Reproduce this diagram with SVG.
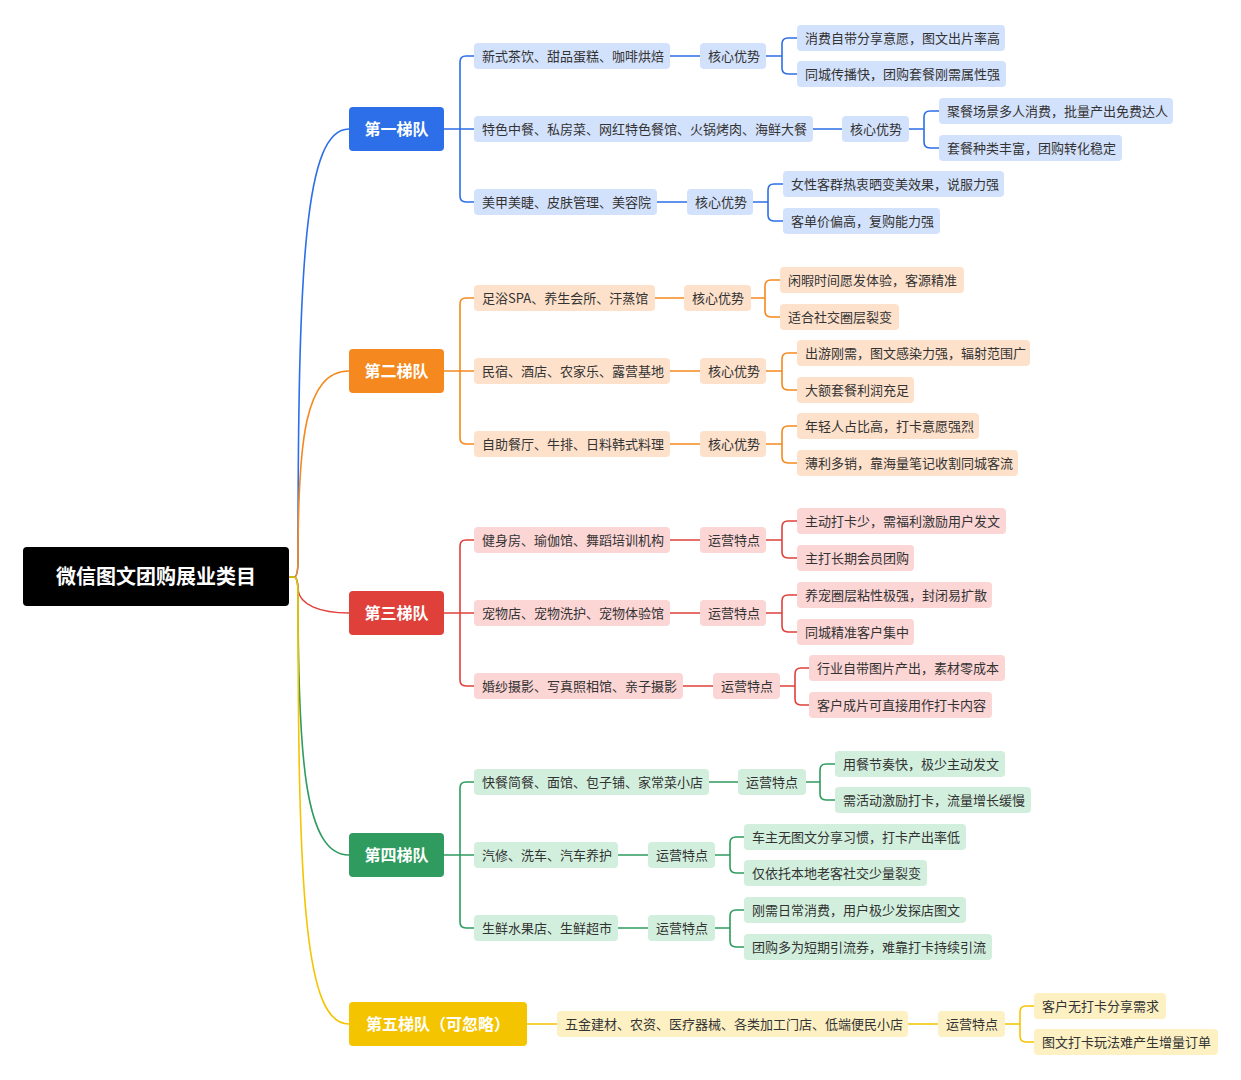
<svg xmlns="http://www.w3.org/2000/svg" width="1241" height="1080" viewBox="0 0 1241 1080">
<style>
text{font-family:"Noto Sans CJK SC","Noto Sans",sans-serif;font-size:13px;fill:#333}
.t{font-size:16px;font-weight:bold;fill:#fff;text-anchor:middle}
.r{font-size:20px;font-weight:bold;fill:#fff;text-anchor:middle}
.c path{fill:none;stroke-width:1.6}
.b rect{fill:#d3e2fc}.o rect{fill:#fde1cb}.d rect{fill:#fcd5d5}.g rect{fill:#d2efdd}.y rect{fill:#fdf1c3}
</style>
<rect width="1241" height="1080" fill="#fff"/>
<g id="connectors" class="c">
<path stroke="#2c6fe8" d="M289,577 H294 Q298,577 298,560 C298,260 305,129 349,129"/>
<path stroke="#f5891f" d="M289,577 H294 Q298,577 298,560 C298,440 305,371 349,371"/>
<path stroke="#e0403a" d="M289,577 H294 Q298,577 298,590 C300,605 320,613 349,613"/>
<path stroke="#2f9b5e" d="M289,577 H294 Q298,577 298,594 C298,760 305,855 349,855"/>
<path stroke="#f5c400" d="M289,577 H294 Q298,577 298,594 C298,900 305,1024 349,1024"/>
<g stroke="#2c6fe8">
<path d="M444,129 H474 M460,129 V62 Q460,56 466,56 H474 M460,129 V196 Q460,202 466,202 H474"/>
<path d="M670,56 H700 M766,56 H782 M782,56 V44 Q782,38 788,38 H797 M782,56 V68 Q782,74 788,74 H797"/>
<path d="M813,129 H842 M909,129 H924 M924,129 V117 Q924,111 930,111 H939 M924,129 V142 Q924,148 930,148 H939"/>
<path d="M657,202 H687 M753,202 H768 M768,202 V190 Q768,184 774,184 H783 M768,202 V215 Q768,221 774,221 H783"/>
</g>
<g stroke="#f5891f">
<path d="M444,371 H474 M460,371 V304 Q460,298 466,298 H474 M460,371 V438 Q460,444 466,444 H474"/>
<path d="M655,298 H684 M751,298 H765 M765,298 V286 Q765,280 771,280 H780 M765,298 V311 Q765,317 771,317 H780"/>
<path d="M670,371 H700 M766,371 H782 M782,371 V359 Q782,353 788,353 H797 M782,371 V384 Q782,390 788,390 H797"/>
<path d="M670,444 H700 M766,444 H782 M782,444 V432 Q782,426 788,426 H797 M782,444 V457 Q782,463 788,463 H797"/>
</g>
<g stroke="#e0403a">
<path d="M444,613 H474 M460,613 V546 Q460,540 466,540 H474 M460,613 V680 Q460,686 466,686 H474"/>
<path d="M670,540 H700 M766,540 H782 M782,540 V527 Q782,521 788,521 H797 M782,540 V552 Q782,558 788,558 H797"/>
<path d="M670,613 H700 M766,613 H782 M782,613 V601 Q782,595 788,595 H797 M782,613 V626 Q782,632 788,632 H797"/>
<path d="M683,686 H713 M780,686 H795 M795,686 V674 Q795,668 801,668 H809 M795,686 V699 Q795,705 801,705 H809"/>
</g>
<g stroke="#2f9b5e">
<path d="M444,855 H474 M460,855 V788 Q460,782 466,782 H474 M460,855 V922 Q460,928 466,928 H474"/>
<path d="M709,782 H738 M806,782 H820 M820,782 V770 Q820,764 826,764 H835 M820,782 V794 Q820,800 826,800 H835"/>
<path d="M618,855 H648 M715,855 H730 M730,855 V843 Q730,837 736,837 H744 M730,855 V867 Q730,873 736,873 H744"/>
<path d="M618,928 H648 M715,928 H730 M730,928 V916 Q730,910 736,910 H744 M730,928 V941 Q730,947 736,947 H744"/>
</g>
<g stroke="#f5c400">
<path d="M527,1024 H557 M908,1024 H938 M1005,1024 H1020 M1020,1024 V1012 Q1020,1006 1026,1006 H1034 M1020,1024 V1036 Q1020,1042 1026,1042 H1034"/>
</g>
</g>
<g id="root"><rect x="23" y="547" width="266" height="59" rx="4" fill="#000"/><text class="r" x="156" y="584">微信图文团购展业类目</text></g>
<g id="tier1"><rect x="349" y="107" width="95" height="44" rx="4" fill="#2c6fe8"/><text class="t" x="396.5" y="135">第一梯队</text></g>
<g id="tier2"><rect x="349" y="349" width="95" height="44" rx="4" fill="#f5891f"/><text class="t" x="396.5" y="377">第二梯队</text></g>
<g id="tier3"><rect x="349" y="591" width="95" height="44" rx="4" fill="#e0403a"/><text class="t" x="396.5" y="619">第三梯队</text></g>
<g id="tier4"><rect x="349" y="833" width="95" height="44" rx="4" fill="#2f9b5e"/><text class="t" x="396.5" y="861">第四梯队</text></g>
<g id="tier5"><rect x="349" y="1002" width="178" height="44" rx="4" fill="#f5c400"/><text class="t" x="438" y="1030">第五梯队（可忽略）</text></g>

<g class="b">
<g id="b1"><rect x="474" y="43" width="196" height="26" rx="4"/><text x="482" y="61">新式茶饮、甜品蛋糕、咖啡烘焙</text></g>
<g id="b1k"><rect x="700" y="43" width="66" height="26" rx="4"/><text x="708" y="61">核心优势</text></g>
<g id="b1a"><rect x="797" y="25" width="208" height="26" rx="4"/><text x="805" y="43">消费自带分享意愿，图文出片率高</text></g>
<g id="b1b"><rect x="797" y="61" width="209" height="26" rx="4"/><text x="805" y="79">同城传播快，团购套餐刚需属性强</text></g>
<g id="b2"><rect x="474" y="116" width="339" height="26" rx="4"/><text x="482" y="134">特色中餐、私房菜、网红特色餐馆、火锅烤肉、海鲜大餐</text></g>
<g id="b2k"><rect x="842" y="116" width="67" height="26" rx="4"/><text x="850" y="134">核心优势</text></g>
<g id="b2a"><rect x="939" y="98" width="234" height="26" rx="4"/><text x="947" y="116">聚餐场景多人消费，批量产出免费达人</text></g>
<g id="b2b"><rect x="939" y="135" width="183" height="26" rx="4"/><text x="947" y="153">套餐种类丰富，团购转化稳定</text></g>
<g id="b3"><rect x="474" y="189" width="183" height="26" rx="4"/><text x="482" y="207">美甲美睫、皮肤管理、美容院</text></g>
<g id="b3k"><rect x="687" y="189" width="66" height="26" rx="4"/><text x="695" y="207">核心优势</text></g>
<g id="b3a"><rect x="783" y="171" width="221" height="26" rx="4"/><text x="791" y="189">女性客群热衷晒变美效果，说服力强</text></g>
<g id="b3b"><rect x="783" y="208" width="157" height="26" rx="4"/><text x="791" y="226">客单价偏高，复购能力强</text></g>
</g>

<g class="o">
<g id="o1"><rect x="474" y="285" width="181" height="26" rx="4"/><text x="482" y="303">足浴SPA、养生会所、汗蒸馆</text></g>
<g id="o1k"><rect x="684" y="285" width="67" height="26" rx="4"/><text x="692" y="303">核心优势</text></g>
<g id="o1a"><rect x="780" y="267" width="184" height="26" rx="4"/><text x="788" y="285">闲暇时间愿发体验，客源精准</text></g>
<g id="o1b"><rect x="780" y="304" width="119" height="26" rx="4"/><text x="788" y="322">适合社交圈层裂变</text></g>
<g id="o2"><rect x="474" y="358" width="196" height="26" rx="4"/><text x="482" y="376">民宿、酒店、农家乐、露营基地</text></g>
<g id="o2k"><rect x="700" y="358" width="66" height="26" rx="4"/><text x="708" y="376">核心优势</text></g>
<g id="o2a"><rect x="797" y="340" width="233" height="26" rx="4"/><text x="805" y="358">出游刚需，图文感染力强，辐射范围广</text></g>
<g id="o2b"><rect x="797" y="377" width="117" height="26" rx="4"/><text x="805" y="395">大额套餐利润充足</text></g>
<g id="o3"><rect x="474" y="431" width="196" height="26" rx="4"/><text x="482" y="449">自助餐厅、牛排、日料韩式料理</text></g>
<g id="o3k"><rect x="700" y="431" width="66" height="26" rx="4"/><text x="708" y="449">核心优势</text></g>
<g id="o3a"><rect x="797" y="413" width="182" height="26" rx="4"/><text x="805" y="431">年轻人占比高，打卡意愿强烈</text></g>
<g id="o3b"><rect x="797" y="450" width="221" height="26" rx="4"/><text x="805" y="468">薄利多销，靠海量笔记收割同城客流</text></g>
</g>

<g class="d">
<g id="d1"><rect x="474" y="527" width="196" height="26" rx="4"/><text x="482" y="545">健身房、瑜伽馆、舞蹈培训机构</text></g>
<g id="d1k"><rect x="700" y="527" width="66" height="26" rx="4"/><text x="708" y="545">运营特点</text></g>
<g id="d1a"><rect x="797" y="508" width="209" height="26" rx="4"/><text x="805" y="526">主动打卡少，需福利激励用户发文</text></g>
<g id="d1b"><rect x="797" y="545" width="117" height="26" rx="4"/><text x="805" y="563">主打长期会员团购</text></g>
<g id="d2"><rect x="474" y="600" width="196" height="26" rx="4"/><text x="482" y="618">宠物店、宠物洗护、宠物体验馆</text></g>
<g id="d2k"><rect x="700" y="600" width="66" height="26" rx="4"/><text x="708" y="618">运营特点</text></g>
<g id="d2a"><rect x="797" y="582" width="195" height="26" rx="4"/><text x="805" y="600">养宠圈层粘性极强，封闭易扩散</text></g>
<g id="d2b"><rect x="797" y="619" width="117" height="26" rx="4"/><text x="805" y="637">同城精准客户集中</text></g>
<g id="d3"><rect x="474" y="673" width="209" height="26" rx="4"/><text x="482" y="691">婚纱摄影、写真照相馆、亲子摄影</text></g>
<g id="d3k"><rect x="713" y="673" width="67" height="26" rx="4"/><text x="721" y="691">运营特点</text></g>
<g id="d3a"><rect x="809" y="655" width="196" height="26" rx="4"/><text x="817" y="673">行业自带图片产出，素材零成本</text></g>
<g id="d3b"><rect x="809" y="692" width="183" height="26" rx="4"/><text x="817" y="710">客户成片可直接用作打卡内容</text></g>
</g>

<g class="g">
<g id="g1"><rect x="474" y="769" width="235" height="26" rx="4"/><text x="482" y="787">快餐简餐、面馆、包子铺、家常菜小店</text></g>
<g id="g1k"><rect x="738" y="769" width="68" height="26" rx="4"/><text x="746" y="787">运营特点</text></g>
<g id="g1a"><rect x="835" y="751" width="170" height="26" rx="4"/><text x="843" y="769">用餐节奏快，极少主动发文</text></g>
<g id="g1b"><rect x="835" y="787" width="196" height="26" rx="4"/><text x="843" y="805">需活动激励打卡，流量增长缓慢</text></g>
<g id="g2"><rect x="474" y="842" width="144" height="26" rx="4"/><text x="482" y="860">汽修、洗车、汽车养护</text></g>
<g id="g2k"><rect x="648" y="842" width="67" height="26" rx="4"/><text x="656" y="860">运营特点</text></g>
<g id="g2a"><rect x="744" y="824" width="222" height="26" rx="4"/><text x="752" y="842">车主无图文分享习惯，打卡产出率低</text></g>
<g id="g2b"><rect x="744" y="860" width="183" height="26" rx="4"/><text x="752" y="878">仅依托本地老客社交少量裂变</text></g>
<g id="g3"><rect x="474" y="915" width="144" height="26" rx="4"/><text x="482" y="933">生鲜水果店、生鲜超市</text></g>
<g id="g3k"><rect x="648" y="915" width="67" height="26" rx="4"/><text x="656" y="933">运营特点</text></g>
<g id="g3a"><rect x="744" y="897" width="222" height="26" rx="4"/><text x="752" y="915">刚需日常消费，用户极少发探店图文</text></g>
<g id="g3b"><rect x="744" y="934" width="248" height="26" rx="4"/><text x="752" y="952">团购多为短期引流券，难靠打卡持续引流</text></g>
</g>

<g class="y">
<g id="y1"><rect x="557" y="1011" width="351" height="26" rx="4"/><text x="565" y="1029">五金建材、农资、医疗器械、各类加工门店、低端便民小店</text></g>
<g id="y1k"><rect x="938" y="1011" width="67" height="26" rx="4"/><text x="946" y="1029">运营特点</text></g>
<g id="y1a"><rect x="1034" y="993" width="132" height="26" rx="4"/><text x="1042" y="1011">客户无打卡分享需求</text></g>
<g id="y1b"><rect x="1034" y="1029" width="184" height="26" rx="4"/><text x="1042" y="1047">图文打卡玩法难产生增量订单</text></g>
</g>
</svg>
